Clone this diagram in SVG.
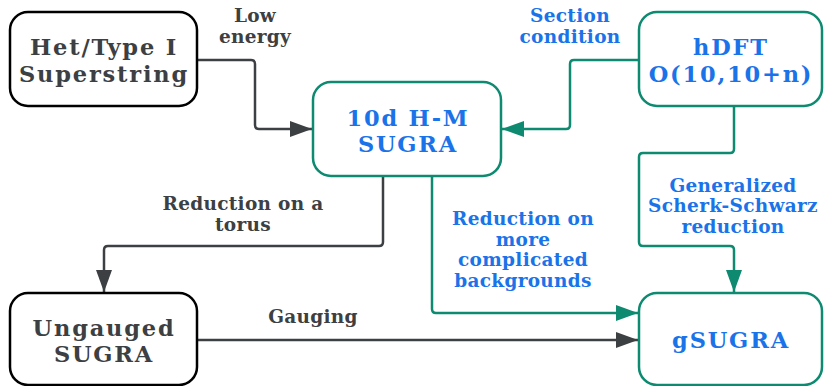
<svg xmlns="http://www.w3.org/2000/svg" width="824" height="386" viewBox="0 0 824 386">
<style>
.bg{fill:#ffffff}
.nb{fill:#ffffff;stroke:#000000;stroke-width:2.5}
.nt{fill:#ffffff;stroke:#0e8a70;stroke-width:2.5}
.t{font-family:"DejaVu Serif","Liberation Serif",serif;font-weight:bold;text-anchor:middle}
.nl{font-size:22.5px;letter-spacing:1.8px}
.ll{font-size:18.5px;letter-spacing:0.3px}
.g{fill:#3c4043}
.b{fill:#1a73e8}
.cg{fill:none;stroke:#3c4043;stroke-width:2.5}
.ct{fill:none;stroke:#0e8a70;stroke-width:2.5}
</style>
<defs>
<marker id="ag" markerUnits="userSpaceOnUse" markerWidth="24" markerHeight="16" refX="22" refY="8" orient="auto">
<path d="M0,0 L22,8 L0,16 Z" fill="#3c4043"/>
</marker>
<marker id="at" markerUnits="userSpaceOnUse" markerWidth="24" markerHeight="16" refX="22" refY="8" orient="auto">
<path d="M0,0 L22,8 L0,16 Z" fill="#0e8a70"/>
</marker>
</defs>
<rect class="bg" x="0" y="0" width="824" height="386"/>
<g id="connectors">
<path class="cg" d="M197,60 H251 Q255,60 255,64 V125 Q255,129 259,129 H312" marker-end="url(#ag)"/>
<path class="ct" d="M639,60 H574 Q570,60 570,64 V125 Q570,129 566,129 H502" marker-end="url(#at)"/>
<path class="cg" d="M383,176 V242 Q383,246 379,246 H108 Q104,246 104,250 V292" marker-end="url(#ag)"/>
<path class="ct" d="M432,176 V309 Q432,313 436,313 H638" marker-end="url(#at)"/>
<path class="ct" d="M734,106 V149 Q734,153 730,153 H643 Q639,153 639,157 V242 Q639,246 643,246 H730 Q734,246 734,250 V292" marker-end="url(#at)"/>
<path class="cg" d="M197,340 H638" marker-end="url(#ag)"/>
<text class="t ll g" x="255" y="22">Low</text>
<text class="t ll g" x="255" y="43">energy</text>
<text class="t ll b" x="570" y="22">Section</text>
<text class="t ll b" x="570" y="43">condition</text>
<text class="t ll g" x="243" y="210">Reduction on a</text>
<text class="t ll g" x="243" y="231">torus</text>
<text class="t ll b" x="523" y="225">Reduction on</text>
<text class="t ll b" x="523" y="246">more</text>
<text class="t ll b" x="523" y="266">complicated</text>
<text class="t ll b" x="523" y="287">backgrounds</text>
<text class="t ll b" x="733" y="192">Generalized</text>
<text class="t ll b" x="733" y="212">Scherk-Schwarz</text>
<text class="t ll b" x="733" y="233">reduction</text>
<text class="t ll g" x="313" y="323">Gauging</text>
</g>
<g id="het">
<rect class="nb" x="10" y="12" width="187" height="94" rx="18"/>
<text class="t nl g" x="104" y="55">Het/Type I</text>
<text class="t nl g" x="104" y="82">Superstring</text>
</g>
<g id="hm">
<rect class="nt" x="313" y="82" width="188" height="94" rx="18"/>
<text class="t nl b" x="408" y="126">10d H-M</text>
<text class="t nl b" x="408" y="152">SUGRA</text>
</g>
<g id="hdft">
<rect class="nt" x="639" y="12" width="183" height="94" rx="18"/>
<text class="t nl b" x="731" y="55">hDFT</text>
<text class="t nl b" x="731" y="82">O(10,10+n)</text>
</g>
<g id="ungauged">
<rect class="nb" x="10" y="293" width="187" height="92" rx="18"/>
<text class="t nl g" x="104" y="336">Ungauged</text>
<text class="t nl g" x="104" y="362">SUGRA</text>
</g>
<g id="gsugra">
<rect class="nt" x="639" y="293" width="183" height="92" rx="18"/>
<text class="t nl b" x="731" y="348">gSUGRA</text>
</g>
</svg>
